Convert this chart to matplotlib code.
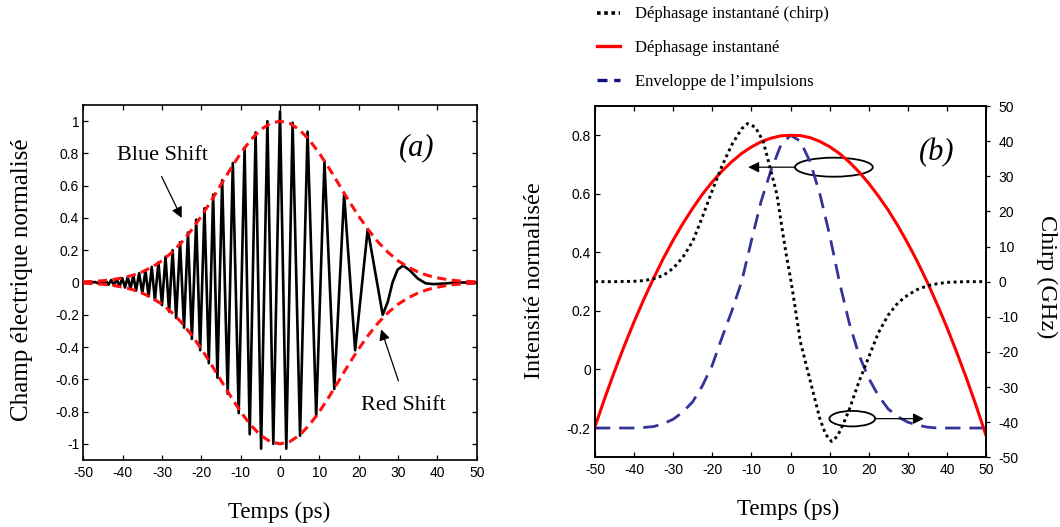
import matplotlib
matplotlib.use('Agg')
import matplotlib.pyplot as plt
from matplotlib.patches import Ellipse
from matplotlib.lines import Line2D
from matplotlib.ticker import FuncFormatter

plt.rcParams['axes.unicode_minus'] = False
SERIF = ['Liberation Serif', 'DejaVu Serif']
SANS = ['Liberation Sans', 'DejaVu Sans']

# ---------------- data: panel (a) ----------------
# chirped electric field, listed as its successive extrema (time in ps, normalised value)
field_t = [-50, -48, -47, -46.3, -45.6, -45.0, -44.3, -43.6, -42.9, -42.2, -41.5, -40.8,
           -40.1, -39.4, -38.7, -38.0, -37.3, -36.6, -35.8, -35.0, -34.2, -33.4, -32.6,
           -31.8, -30.9, -30.0, -29.1, -28.2, -27.3, -26.4, -25.4, -24.4, -23.4, -22.4,
           -21.3, -20.3, -19.2, -18.1, -17.0, -15.9, -14.7, -13.3, -12.0, -10.5, -9.0,
           -7.7, -6.2, -4.8, -3.2, -1.7, 0.0, 1.6, 3.2, 5.1, 7.0, 9.2, 11.3, 13.8, 16.3,
           19.1, 22.3, 26.1, 27.4, 28.6, 29.9, 31.3, 33.0, 35.0, 37.0, 39.0, 42.0, 45.0, 50.0]
field_v = [0.0, 0.0, 0.003, -0.004, 0.006, -0.009, 0.012, -0.014, 0.016, -0.018, 0.021, -0.024,
           0.027, -0.031, 0.035, -0.040, 0.045, -0.050, 0.058, -0.066, 0.076, -0.086, 0.097,
           -0.110, 0.125, -0.140, 0.160, -0.180, 0.200, -0.220, 0.250, -0.280, 0.310, -0.350,
           0.390, -0.420, 0.460, -0.500, 0.545, -0.590, 0.635, -0.690, 0.740, -0.810, 0.835,
           -0.940, 0.930, -1.030, 1.000, -1.000, 1.060, -1.030, 0.990, -0.950, 0.935, -0.830,
           0.750, -0.660, 0.545, -0.420, 0.330, -0.200, -0.120, 0.000, 0.080, 0.105, 0.075,
           0.025, -0.005, -0.010, -0.006, 0.0, 0.0]

# pulse envelope (normalised)
env_t = [-50, -47.5, -45, -42.5, -40, -37.5, -35, -32.5, -30, -27.5, -25, -22.5, -20, -17.5,
         -15, -12.5, -10, -7.5, -5, -2.5, 0, 2.5, 5, 7.5, 10, 12.5, 15, 17.5, 20, 22.5, 25,
         27.5, 30, 32.5, 35, 37.5, 40, 42.5, 45, 47.5, 50]
env_v = [0.004, 0.007, 0.011, 0.018, 0.029, 0.044, 0.066, 0.096, 0.135, 0.186, 0.249, 0.325,
         0.411, 0.506, 0.607, 0.707, 0.801, 0.882, 0.946, 0.986, 1.0, 0.986, 0.946, 0.882,
         0.801, 0.707, 0.607, 0.506, 0.411, 0.325, 0.249, 0.186, 0.135, 0.096, 0.066, 0.044,
         0.029, 0.018, 0.011, 0.007, 0.004]

# ---------------- data: panel (b) ----------------
b_t = [-50, -47.5, -45, -42.5, -40, -37.5, -35, -32.5, -30, -27.5, -25, -22.5, -20, -17.5,
       -15, -12.5, -10, -7.5, -5, -2.5, 0, 2.5, 5, 7.5, 10, 12.5, 15, 17.5, 20, 22.5, 25,
       27.5, 30, 32.5, 35, 37.5, 40, 42.5, 45, 47.5, 50]
phase_v = [-0.195, -0.098, -0.006, 0.081, 0.163, 0.240, 0.312, 0.380, 0.442, 0.499, 0.551,
           0.599, 0.641, 0.678, 0.710, 0.738, 0.760, 0.778, 0.790, 0.798, 0.800, 0.799, 0.792,
           0.779, 0.761, 0.738, 0.709, 0.675, 0.636, 0.592, 0.544, 0.490, 0.431, 0.367, 0.298,
           0.223, 0.144, 0.059, -0.030, -0.125, -0.225]
envelope_v = [-0.2, -0.2, -0.2, -0.2, -0.2, -0.198, -0.195, -0.185, -0.17, -0.145, -0.11,
              -0.055, 0.015, 0.11, 0.20, 0.30, 0.44, 0.575, 0.68, 0.765, 0.80, 0.78, 0.71,
              0.60, 0.46, 0.30, 0.16, 0.05, -0.03, -0.09, -0.135, -0.162, -0.18, -0.19,
              -0.197, -0.2, -0.2, -0.2, -0.2, -0.2, -0.2]
chirp_t = [-50, -45, -40, -37.5, -35, -32.5, -30, -27.5, -25, -22.5, -20, -17.5, -15, -12.5,
           -11, -9, -7, -5, -3.5, -2, -1, 0, 1, 2.5, 5, 7.5, 9, 10.5, 12, 13.5, 15, 17.5, 20,
           22.5, 25, 27.5, 30, 32.5, 35, 37.5, 40, 45, 50]
chirp_v = [0, 0, 0.1, 0.3, 0.8, 1.8, 3.8, 7.0, 11.5, 18.5, 26, 33, 39, 43.5, 45, 44, 40,
           31.5, 25, 14, 7.1, 1, -6, -17, -28, -39, -43.5, -45.5, -44, -40.5, -36.5, -28.5,
           -21.5, -14.5, -9.5, -6, -3.8, -2.2, -1.2, -0.6, -0.2, 0, 0]

x_ticks = [-50, -40, -30, -20, -10, 0, 10, 20, 30, 40, 50]
ya_ticks = [-1, -0.8, -0.6, -0.4, -0.2, 0, 0.2, 0.4, 0.6, 0.8, 1]
yb_ticks = [-0.2, 0, 0.2, 0.4, 0.6, 0.8]
yb2_ticks = [-50, -40, -30, -20, -10, 0, 10, 20, 30, 40, 50]

legend_labels = ['Déphasage instantané (chirp)', 'Déphasage instantané',
                 'Enveloppe de l\u2019impulsions']

# ---------------- figure ----------------
W, H = 1060, 527
fig = plt.figure(figsize=(W / 100, H / 100), dpi=100)


def fx(px):
    return px / W


def fy(py):
    return 1 - py / H


fmt = FuncFormatter(lambda v, p: '%g' % v)
TICK_SIZE = 10


def style_axis(ax):
    for s in ax.spines.values():
        s.set_linewidth(1.2)
    ax.set_xlim(-50, 50)
    ax.set_xticks(x_ticks)
    ax.xaxis.set_major_formatter(fmt)
    ax.yaxis.set_major_formatter(fmt)
    for lab in ax.get_xticklabels() + ax.get_yticklabels():
        lab.set_fontfamily(SANS)
        lab.set_fontsize(TICK_SIZE)


# panel (a)
axa = fig.add_axes([fx(83.3), fy(460), fx(476.7 - 83.3), (460 - 105) / H])
axa.plot(field_t, field_v, color='black', lw=1.9, zorder=2)
axa.plot(env_t, env_v, color='#ff1010', lw=2.2, ls=(0, (3.0, 1.8)), zorder=3)
axa.plot(env_t, [-v for v in env_v], color='#ff1010', lw=2.2, ls=(0, (3.0, 1.8)), zorder=3)
axa.set_ylim(-1.1, 1.1)
axa.set_yticks(ya_ticks)
style_axis(axa)
axa.tick_params(direction='in', top=True, right=True, length=3.5, width=0.9, pad=3)
axa.tick_params(axis='x', pad=4)

axa.text(34.7, 0.833, '(a)', fontfamily=SERIF, style='italic', fontsize=22,
         ha='center', va='center')
axa.text(-29.9, 0.787, 'Blue Shift', fontfamily=SERIF, fontsize=16, ha='center', va='center')
axa.text(31.4, -0.76, 'Red Shift', fontfamily=SERIF, fontsize=16, ha='center', va='center')
arrow_kw = dict(arrowstyle='-|>', lw=0.9, color='black', mutation_scale=16,
                shrinkA=0, shrinkB=0)
axa.annotate('', xy=(-25.0, 0.40), xytext=(-30.1, 0.657), arrowprops=arrow_kw)
axa.annotate('', xy=(25.7, -0.29), xytext=(30.1, -0.61), arrowprops=arrow_kw)

# panel (b)
axb = fig.add_axes([fx(595), fy(457.3), fx(986 - 595), (457.3 - 106) / H])
axb2 = axb.twinx()
l_env, = axb.plot(b_t, envelope_v, color='#333399', lw=2.0, ls=(0, (5.5, 3.2)), zorder=2)
l_phase, = axb.plot(b_t, phase_v, color='#ff0000', lw=2.2, zorder=3)
l_chirp, = axb2.plot(chirp_t, chirp_v, color='black', lw=2.1, ls=(0, (1, 1.2)), zorder=3)
axb.set_ylim(-0.3, 0.9)
axb.set_yticks(yb_ticks)
axb2.set_ylim(-50, 50)
axb2.set_yticks(yb2_ticks)
style_axis(axb)
style_axis(axb2)
axb.tick_params(direction='in', top=True, right=False, length=3.5, width=0.9, pad=3)
axb.tick_params(axis='x', pad=4)
axb2.tick_params(axis='y', direction='out', length=3, width=0.9, pad=6)

axb.text(37.5, 0.741, '(b)', fontfamily=SERIF, style='italic', fontsize=22,
         ha='center', va='center')
axb.add_patch(Ellipse((11.1, 0.691), 19.9, 0.065, fill=False, lw=1.3, color='black'))
axb.add_patch(Ellipse((15.8, -0.168), 11.7, 0.053, fill=False, lw=1.3, color='black'))
axb.annotate('', xy=(-10.8, 0.691), xytext=(1.15, 0.691), arrowprops=arrow_kw)
axb.annotate('', xy=(34.1, -0.168), xytext=(21.6, -0.168), arrowprops=arrow_kw)

# axis labels
fig.text(fx(279), fy(518), 'Temps (ps)', fontfamily=SERIF, fontsize=16.5, ha='center', va='baseline')
fig.text(fx(788), fy(515), 'Temps (ps)', fontfamily=SERIF, fontsize=16.5, ha='center', va='baseline')
fig.text(fx(22.5), fy(280), 'Champ électrique normalisé', fontfamily=SERIF, fontsize=18,
         rotation=90, ha='center', va='center')
fig.text(fx(534), fy(281), 'Intensité normalisée', fontfamily=SERIF, fontsize=17.5,
         rotation=90, ha='center', va='center')
fig.text(fx(1047), fy(277), 'Chirp (GHz)', fontfamily=SERIF, fontsize=17.5,
         rotation=-90, ha='center', va='center')

# legend (top)
h_chirp = Line2D([], [], color='black', lw=2.6, ls=(0, (1, 1)))
h_phase = Line2D([], [], color='#ff0000', lw=2.4)
h_env = Line2D([], [], color='#101080', lw=2.4, ls=(0, (3, 2)))
fig.legend([h_chirp, h_phase, h_env], legend_labels, loc='upper left',
           bbox_to_anchor=(fx(596.7), fy(6.5)), bbox_transform=fig.transFigure,
           frameon=False, prop=dict(family=SERIF, size=12), handlelength=1.4,
           handletextpad=0.9, labelspacing=1.05, borderpad=0, borderaxespad=0)

fig.savefig('out.png', dpi=100)
